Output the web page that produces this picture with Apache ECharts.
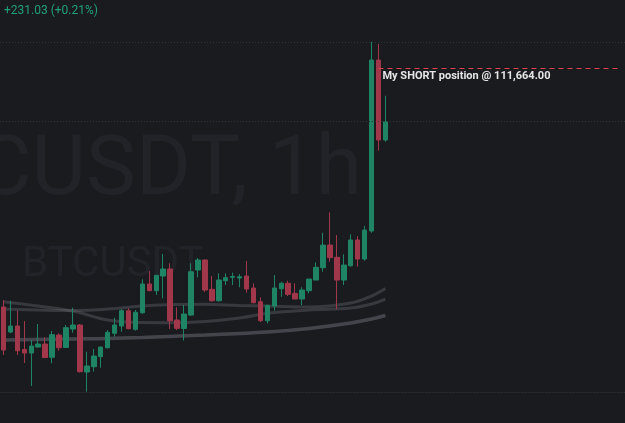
<!DOCTYPE html>
<html><head><meta charset="utf-8">
<script src="https://cdn.jsdelivr.net/npm/echarts@6/dist/echarts.min.js"></script>
<style>html,body{margin:0;padding:0;background:#1a1b1f}#c{width:625px;height:423px}</style>
</head><body><div id="c"></div>
<script>
// ---- data ----
const opens  = [108646,108329,108405,108108,108063,108139,108177,108009,108291,108133,108367,108418,107823,107890,108017,108130,108313,108405,108599,108363,108574,108937,108852,109038,109127,108481,108374,108544,109114,109241,108870,108725,108979,109022,109013,109038,108886,108713,108472,108658,108877,108946,108819,108747,108852,108987,109143,109430,109275,108987,109168,109494,109253,109608,111772,110760];
const closes = [108101,108405,108092,108063,108152,108177,108006,108295,108130,108384,108418,107827,107899,108025,108139,108325,108418,108599,108371,108579,108937,108852,109047,109127,108472,108376,108557,109092,109241,108861,108725,108987,109017,109032,109029,108874,108700,108472,108667,108886,108946,108806,108747,108861,109000,109148,109430,109270,108987,109177,109494,109253,109620,111772,110760,110991];
const lows   = [108038,108316,108038,107937,107646,108139,108000,107933,108092,108130,108320,107817,107575,107827,107877,108123,108270,108333,108363,108346,108557,108848,108798,108756,108367,108355,108222,108532,109022,108836,108713,108713,108924,108924,108895,108827,108692,108456,108439,108599,108776,108785,108747,108671,108819,108987,109092,109219,108617,108924,109156,109156,109232,109586,110624,110738];
const highs  = [108734,108725,108599,108468,108228,108430,108262,108342,108313,108418,108637,108430,108080,108114,108143,108355,108510,108620,108629,108608,108996,109101,109051,109317,109199,108642,108671,109199,109266,109247,109038,109072,109072,109080,109063,109228,108946,108768,108667,109051,108966,108979,108946,108895,109000,109211,109586,109844,109557,109313,109566,109544,109671,112004,111975,111320];
// moving averages, read at sampled candles
const maIdx = [0,5,10,15,20,24,29,34,38,44,50,53,55];
const maA = [108713,108658,108595,108481,108449,108447,108462,108506,108566,108608,108633,108684,108747];
const maB = [108620,108608,108601,108620,108658,108677,108680,108665,108658,108646,108696,108785,108880];
const maCIdx = [0,10,15,20,29,38,44,50,53,55];
const maC = [108228,108241,108247,108260,108291,108329,108374,108443,108494,108538];
const shortPrice = 111664;
const gridPrices = [112000, 111000];
const slotCount = 90;
const changeText = '+231.03 (+0.21%)';
const shortLabel = 'My SHORT position @ 111,664.00';
const watermark = 'BTCUSDT, 1h';
const watermark2 = 'BTCUSDT';

// ---- build ----
const cats = [];
for (let i = 0; i < slotCount; i++) cats.push(String(i));
const candles = opens.map((o, i) => [o, closes[i], lows[i], highs[i]]);
function sparse(idx, vals) {
  const arr = new Array(opens.length).fill(null);
  idx.forEach((k, j) => { arr[k] = vals[j]; });
  return arr;
}
const up = '#1f8463', down = '#a1374a';
const chart = echarts.init(document.getElementById('c'), null, {renderer: 'canvas'});
chart.setOption({
  backgroundColor: '#1a1b1f',
  animation: false,
  grid: {left: -2.8, width: 630, top: 0, bottom: 31},
  xAxis: {type: 'category', data: cats, boundaryGap: true,
    axisLine: {show: true, lineStyle: {color: '#2c3234', type: [1, 2], width: 1}},
    axisTick: {show: false}, axisLabel: {show: false}, splitLine: {show: false}},
  yAxis: {type: 'value', min: 107570, max: 112532, scale: true,
    axisLine: {show: false}, axisTick: {show: false}, axisLabel: {show: false}, splitLine: {show: false}},
  graphic: [
    {type: 'text', left: 4, top: 5, z: 100, style: {text: changeText, fill: '#22a078', font: '12px Roboto'}},
    {type: 'text', right: 263, top: 131, z: -10, silent: true, style: {text: watermark, fill: '#222328', font: '84px Roboto', textAlign: 'right'}},
    {type: 'text', left: 22, top: 244, z: -10, silent: true, style: {text: watermark2, fill: '#222328', font: '42px Roboto'}}
  ],
  series: [
    {type: 'line', data: sparse(maCIdx, maC), connectNulls: true, smooth: 0.4, symbol: 'none',
      lineStyle: {color: 'rgba(120,122,130,0.45)', width: 3.5}, z: 1},
    {type: 'line', data: sparse(maIdx, maA), connectNulls: true, smooth: 0.4, symbol: 'none',
      lineStyle: {color: 'rgba(100,102,110,0.4)', width: 3}, z: 1},
    {type: 'line', data: sparse(maIdx, maB), connectNulls: true, smooth: 0.4, symbol: 'none',
      lineStyle: {color: 'rgba(100,102,110,0.4)', width: 3}, z: 1,
      markLine: {silent: true, symbol: 'none', label: {show: false},
        lineStyle: {color: '#2c3436', type: [1, 2], width: 1},
        data: gridPrices.map(p => ({yAxis: p}))}},
    {type: 'candlestick', data: candles, barWidth: 5, z: 3,
      itemStyle: {color: up, color0: down, borderColor: up, borderColor0: down, borderWidth: 1},
      markLine: {silent: true, symbol: 'none',
        lineStyle: {color: '#e0404f', type: [5, 4], width: 1},
        label: {show: true, position: 'insideStartBottom', formatter: shortLabel, color: '#e6e6e6',
          fontFamily: 'Roboto', fontWeight: 'bold', fontSize: 11, distance: [4, 2]},
        data: [[{coord: ['54', shortPrice]}, {coord: [String(slotCount - 1), shortPrice]}]]}}
  ]
});
</script></body></html>
